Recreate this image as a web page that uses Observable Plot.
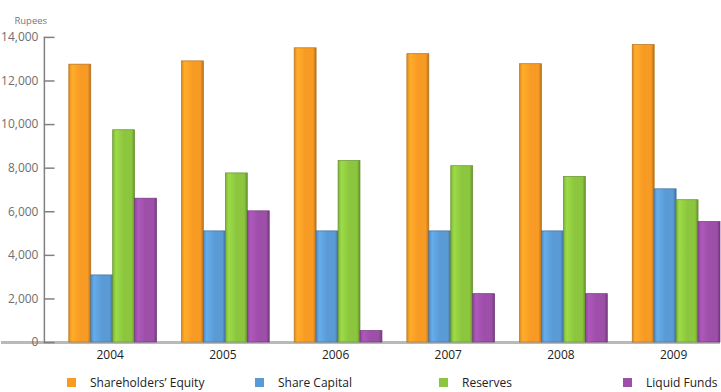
<!DOCTYPE html>
<html>
<head>
<meta charset="utf-8">
<script src="https://cdn.jsdelivr.net/npm/d3@7"></script>
<script src="https://cdn.jsdelivr.net/npm/@observablehq/plot@0.6"></script>
<style>
  body { margin: 0; background: #fff; }
  #chart { width: 721px; overflow: hidden; font-family: "Open Sans", sans-serif; }
  #legend .leg-swatches-wrap { margin: 0; padding-left: 67px; min-height: 28px; height: 28px; flex-wrap: nowrap; font-family: "Open Sans", sans-serif; font-size: 12px; color: #222; }
  #legend .leg-swatches-wrap .leg-swatch { margin: 0; width: 184px; flex: none; }
  #legend .leg-swatches-wrap .leg-swatch:first-of-type { width: 188px; }
  #legend .leg-swatch > svg { margin-right: 14px; }
</style>
</head>
<body>
<div id="chart"></div>
<script>
// Balance-sheet highlights, in rupees
const years = ["2004", "2005", "2006", "2007", "2008", "2009"];
const series = ["Shareholders’ Equity", "Share Capital", "Reserves", "Liquid Funds"];
const shareholdersEquity = [12750, 12900, 13500, 13230, 12770, 13650];
const shareCapital = [3080, 5100, 5100, 5100, 5100, 7030];
const reserves = [9740, 7760, 8330, 8090, 7600, 6530];
const liquidFunds = [6600, 6020, 530, 2220, 2220, 5530];
const yTicks = [0, 2000, 4000, 6000, 8000, 10000, 12000, 14000];
const colors = ["#f89b25", "#5b9bd5", "#8cc63f", "#9d4fa9"];

const values = [shareholdersEquity, shareCapital, reserves, liquidFunds];
const rows = years.flatMap((year, j) =>
  series.map((s, i) => ({year, series: s, value: values[i][j]}))
);

const width = 723;
const marginLeft = 43;
const panelWidth = (width - marginLeft) / years.length;
const tickLength = 11;

// one bar mark per series, each filled with its own shaded gradient
const bars = series.map((s, i) =>
  Plot.barY(rows.filter((d) => d.series === s), {
    fx: "year",
    x: "series",
    y: "value",
    fill: `url(#bar-${i})`,
    stroke: d3.color(colors[i]).darker(0.9).formatHex(),
    strokeWidth: 0.7
  })
);

const svg = Plot.plot({
  width,
  height: 370,
  marginLeft,
  marginRight: 0,
  marginTop: 37,
  marginBottom: 27,
  style: {fontFamily: '"Open Sans", sans-serif', fontSize: "12px", background: "transparent"},
  fx: {domain: years, paddingInner: 0, paddingOuter: 0},
  x: {domain: series, paddingInner: 0, paddingOuter: 0.463, align: 1, axis: null},
  y: {domain: [0, 14000]},
  marks: [
    // baseline: the year panels touch, so the rule runs across the whole chart
    Plot.ruleY([0], {stroke: "#b9b9b9", strokeWidth: 3, insetLeft: -marginLeft}),
    ...bars,
    Plot.frame({anchor: "left", facet: "super", stroke: "#808080", strokeWidth: 1.5}),
    // inward tick marks, drawn in the first year panel only
    Plot.ruleY(yTicks.map((v) => ({v, year: years[0]})), {
      y: "v",
      fx: "year",
      insetRight: panelWidth - tickLength,
      stroke: "#808080",
      strokeWidth: 1.5
    }),
    Plot.axisY(yTicks, {tickSize: 0, tickPadding: 6, tickFormat: d3.format(","), color: "#6e6e6e", fontSize: 12, label: null}),
    Plot.axisFx({anchor: "bottom", tickSize: 0, tickPadding: 8, dx: 9.5, label: null, color: "#222", fontSize: 12}),
    Plot.text(["Rupees"], {facet: "super", frameAnchor: "top-left", dx: -30, dy: -20, textAnchor: "start", fontSize: 9.5, fill: "#777"})
  ]
});

const defs = colors.map((c, i) => {
  const k = d3.color(c);
  return `<linearGradient id="bar-${i}" x1="0" x2="1" y1="0" y2="0">
    <stop offset="0" stop-color="${k.darker(0.3).formatHex()}"/>
    <stop offset="0.15" stop-color="${k.brighter(0.3).formatHex()}"/>
    <stop offset="0.5" stop-color="${c}"/>
    <stop offset="0.86" stop-color="${c}"/>
    <stop offset="1" stop-color="${k.darker(0.9).formatHex()}"/>
  </linearGradient>`;
}).join("");
svg.insertAdjacentHTML("afterbegin", `<defs>${defs}</defs>`);

const legend = Plot.legend({
  legend: "swatches",
  color: {domain: series, range: colors},
  swatchSize: 9,
  className: "leg"
});
const legendBox = document.createElement("div");
legendBox.id = "legend";
legendBox.appendChild(legend);

const chart = document.getElementById("chart");
chart.appendChild(svg);
chart.appendChild(legendBox);
</script>
</body>
</html>
